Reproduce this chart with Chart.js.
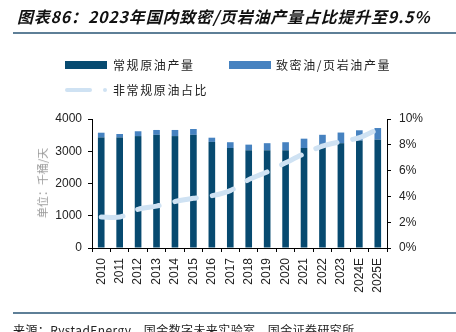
<!DOCTYPE html>
<html>
<head>
<meta charset="utf-8">
<script src="https://cdn.jsdelivr.net/npm/chart.js@4.4.1/dist/chart.umd.min.js"></script>
<style>
  html, body { margin: 0; padding: 0; background: #fff; }
  #wrap { position: relative; width: 456px; height: 332px; overflow: hidden; font-family: "Noto Sans CJK SC", "Liberation Sans", sans-serif; }
  canvas { position: absolute; left: 0; top: 0; }
  .abs { position: absolute; white-space: nowrap; }
  #title { left: 17px; top: 4px; font-size: 16px; font-weight: bold; font-style: italic; letter-spacing: 0.8px; color: #111; }
  .rule { position: absolute; left: 13px; right: 0; height: 2px; background: #5e7f97; }
  .sw { position: absolute; height: 8px; }
  .lg { font-size: 12px; letter-spacing: 1.6px; color: #222; }
  #unit { left: 42px; top: 183px; font-size: 11px; color: #999; transform: translate(-50%, -50%) rotate(-90deg); }
  #src { left: 13px; top: 321px; font-size: 12px; color: #222; letter-spacing: 0.4px; }
</style>
</head>
<body>
<div id="wrap">
  <canvas id="oilChart" width="456" height="332"></canvas>
  <div id="title" class="abs">图表86：2023年国内致密/页岩油产量占比提升至9.5%</div>
  <div class="rule" style="top:32px"></div>

  <div class="sw" style="left:65px;top:61px;width:42px;background:#074a70"></div>
  <div class="abs lg" style="left:113px;top:56px">常规原油产量</div>
  <div class="sw" style="left:229px;top:61px;width:42px;background:#4682c0"></div>
  <div class="abs lg" style="left:276px;top:56px">致密油/页岩油产量</div>
  <div class="sw" style="left:65px;top:88px;width:27px;height:4px;border-radius:2px;background:#cfe2f3"></div>
  <div class="sw" style="left:103px;top:88px;width:4px;height:4px;border-radius:2px;background:#cfe2f3"></div>
  <div class="abs lg" style="left:113px;top:81px">非常规原油占比</div>

  <div id="unit" class="abs">单位：千桶/天</div>
  <div class="rule" style="top:312px"></div>
  <div id="src" class="abs">来源：RystadEnergy，国金数字未来实验室，国金证券研究所</div>
</div>

<script>
// 年份
const years = ['2010', '2011', '2012', '2013', '2014', '2015', '2016', '2017',
  '2018', '2019', '2020', '2021', '2022', '2023', '2024E', '2025E'];
// 常规原油产量（千桶/天）
const conventional = [3430, 3430, 3470, 3510, 3470, 3510, 3290, 3100,
  3030, 3030, 3030, 3100, 3230, 3250, 3330, 3360];
// 致密油/页岩油产量（千桶/天）
const tightOil = [145, 105, 150, 150, 190, 180, 130, 180,
  175, 220, 250, 290, 280, 330, 320, 360];
// 非常规原油占比（%）
const unconvShare = [2.4, 2.4, 3.0, 3.25, 3.6, 3.85, 4.05, 4.45,
  5.3, 5.9, 6.6, 7.3, 7.9, 8.25, 8.55, 9.2];

const axisFont = { family: 'Liberation Sans, Arial, sans-serif', size: 12 };

const ctx = document.getElementById('oilChart').getContext('2d');
new Chart(ctx, {
  type: 'bar',
  data: {
    labels: years,
    datasets: [
      {
        type: 'line',
        label: '非常规原油占比',
        data: unconvShare,
        yAxisID: 'y1',
        borderColor: '#cfe2f3',
        borderWidth: 5,
        borderDash: [22, 16],
        borderCapStyle: 'round',
        tension: 0.3,
        pointRadius: 0,
        order: 0
      },
      {
        label: '常规原油产量',
        data: conventional,
        backgroundColor: '#074a70',
        stack: 'oil',
        order: 1
      },
      {
        label: '致密油/页岩油产量',
        data: tightOil,
        backgroundColor: '#4682c0',
        stack: 'oil',
        order: 1
      }
    ]
  },
  options: {
    responsive: false,
    animation: false,
    devicePixelRatio: 1,
    layout: { padding: { top: 119, left: 0, right: 0, bottom: 0 } },
    datasets: { bar: { categoryPercentage: 1, barPercentage: 0.36 } },
    plugins: { legend: { display: false }, tooltip: { enabled: false } },
    scales: {
      x: {
        stacked: true,
        afterFit: s => { s.height = 84; },
        border: { color: '#000', width: 1 },
        grid: { drawOnChartArea: false, tickLength: 4, tickColor: '#000', offset: true },
        ticks: { color: '#222', font: axisFont, minRotation: 90, maxRotation: 90, padding: 6, autoSkip: false }
      },
      y: {
        stacked: true,
        min: 0, max: 4000,
        afterFit: s => { s.width = 92; },
        border: { color: '#000', width: 1 },
        grid: { drawOnChartArea: false, tickLength: 4, tickColor: '#000' },
        ticks: { stepSize: 500, color: '#222', font: axisFont, padding: 6, callback: v => String(v) }
      },
      y1: {
        position: 'right',
        min: 0, max: 10,
        afterFit: s => { s.width = 69; },
        border: { color: '#000', width: 1 },
        grid: { drawOnChartArea: false, tickLength: 4, tickColor: '#000' },
        ticks: { stepSize: 2, color: '#222', font: axisFont, padding: 8, callback: v => v + '%' }
      }
    }
  }
});
</script>
</body>
</html>
